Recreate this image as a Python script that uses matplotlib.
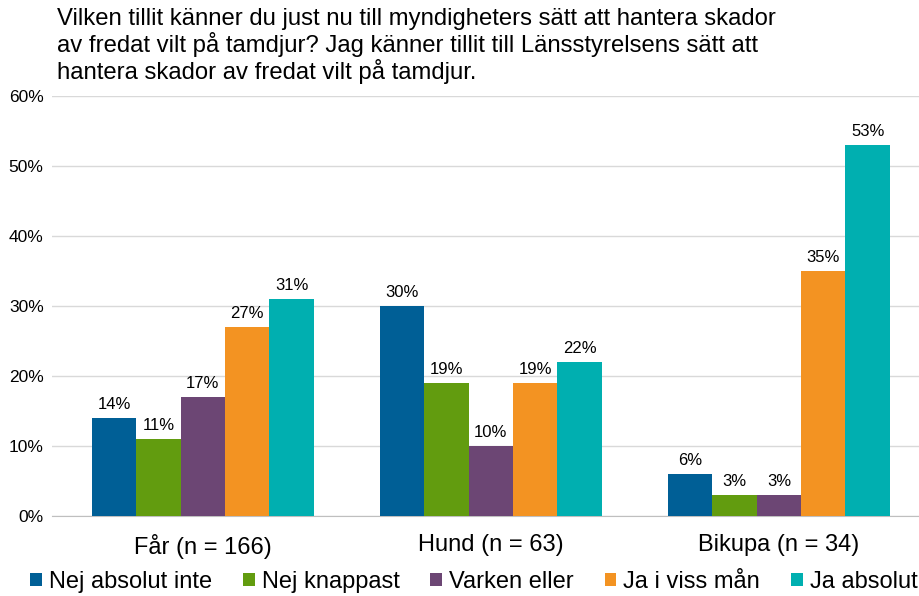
import numpy as np
import matplotlib.pyplot as plt

plt.rcParams['font.family'] = ['Liberation Sans', 'DejaVu Sans']

categories = ['Får (n = 166)', 'Hund (n = 63)', 'Bikupa (n = 34)']
series = ['Nej absolut inte', 'Nej knappast', 'Varken eller', 'Ja i viss mån', 'Ja absolut']
values = [
    [14, 30, 6],   # Nej absolut inte
    [11, 19, 3],   # Nej knappast
    [17, 10, 3],   # Varken eller
    [27, 19, 35],  # Ja i viss mån
    [31, 22, 53],  # Ja absolut
]
colors = ['#005F96', '#629C0F', '#6C4674', '#F39322', '#00AFB0']
title = ('Vilken tillit känner du just nu till myndigheters sätt att hantera skador\n'
         'av fredat vilt på tamdjur? Jag känner tillit till Länsstyrelsens sätt att\n'
         'hantera skador av fredat vilt på tamdjur.')

fig = plt.figure(figsize=(9.2, 5.96), dpi=100)
ax = fig.add_axes([52/920, 1 - 516/596, 868/920, 420/596])

x = np.arange(len(categories))
w = 0.154
for i, (name, vals, c) in enumerate(zip(series, values, colors)):
    pos = x + (i - 2) * w
    ax.bar(pos, np.array(vals) / 100, width=w, color=c, label=name, zorder=3)
    for p, v in zip(pos, vals):
        ax.text(p, v / 100 + 0.008, f'{v}%', ha='center', va='bottom', fontsize=12)

ax.set_ylim(0, 0.6)
ax.set_xlim(-0.524, 2.49)
ax.set_yticks(np.arange(0, 0.61, 0.1))
ax.set_yticklabels([f'{int(round(t*100))}%' for t in np.arange(0, 0.61, 0.1)], fontsize=12.5)
ax.set_xticks(x)
ax.set_xticklabels(categories, fontsize=17)
ax.tick_params(axis='both', length=0)
ax.tick_params(axis='y', pad=6)
ax.tick_params(axis='x', pad=13)
ax.grid(axis='y', color='#D9D9D9', linewidth=1, zorder=0)
for s in ['top', 'right', 'left']:
    ax.spines[s].set_visible(False)
ax.spines['bottom'].set_color('#BFBFBF')

fig.text(57/920, 1 - 8/596, title, ha='left', va='top', fontsize=17.2, linespacing=1.1)

fig.legend(loc='lower center', bbox_to_anchor=(0.515, -0.03), ncol=5, frameon=False,
           fontsize=17, handlelength=0.5, handleheight=0.5, handletextpad=0.3,
           columnspacing=1.3)

fig.savefig('out.png', dpi=100)
